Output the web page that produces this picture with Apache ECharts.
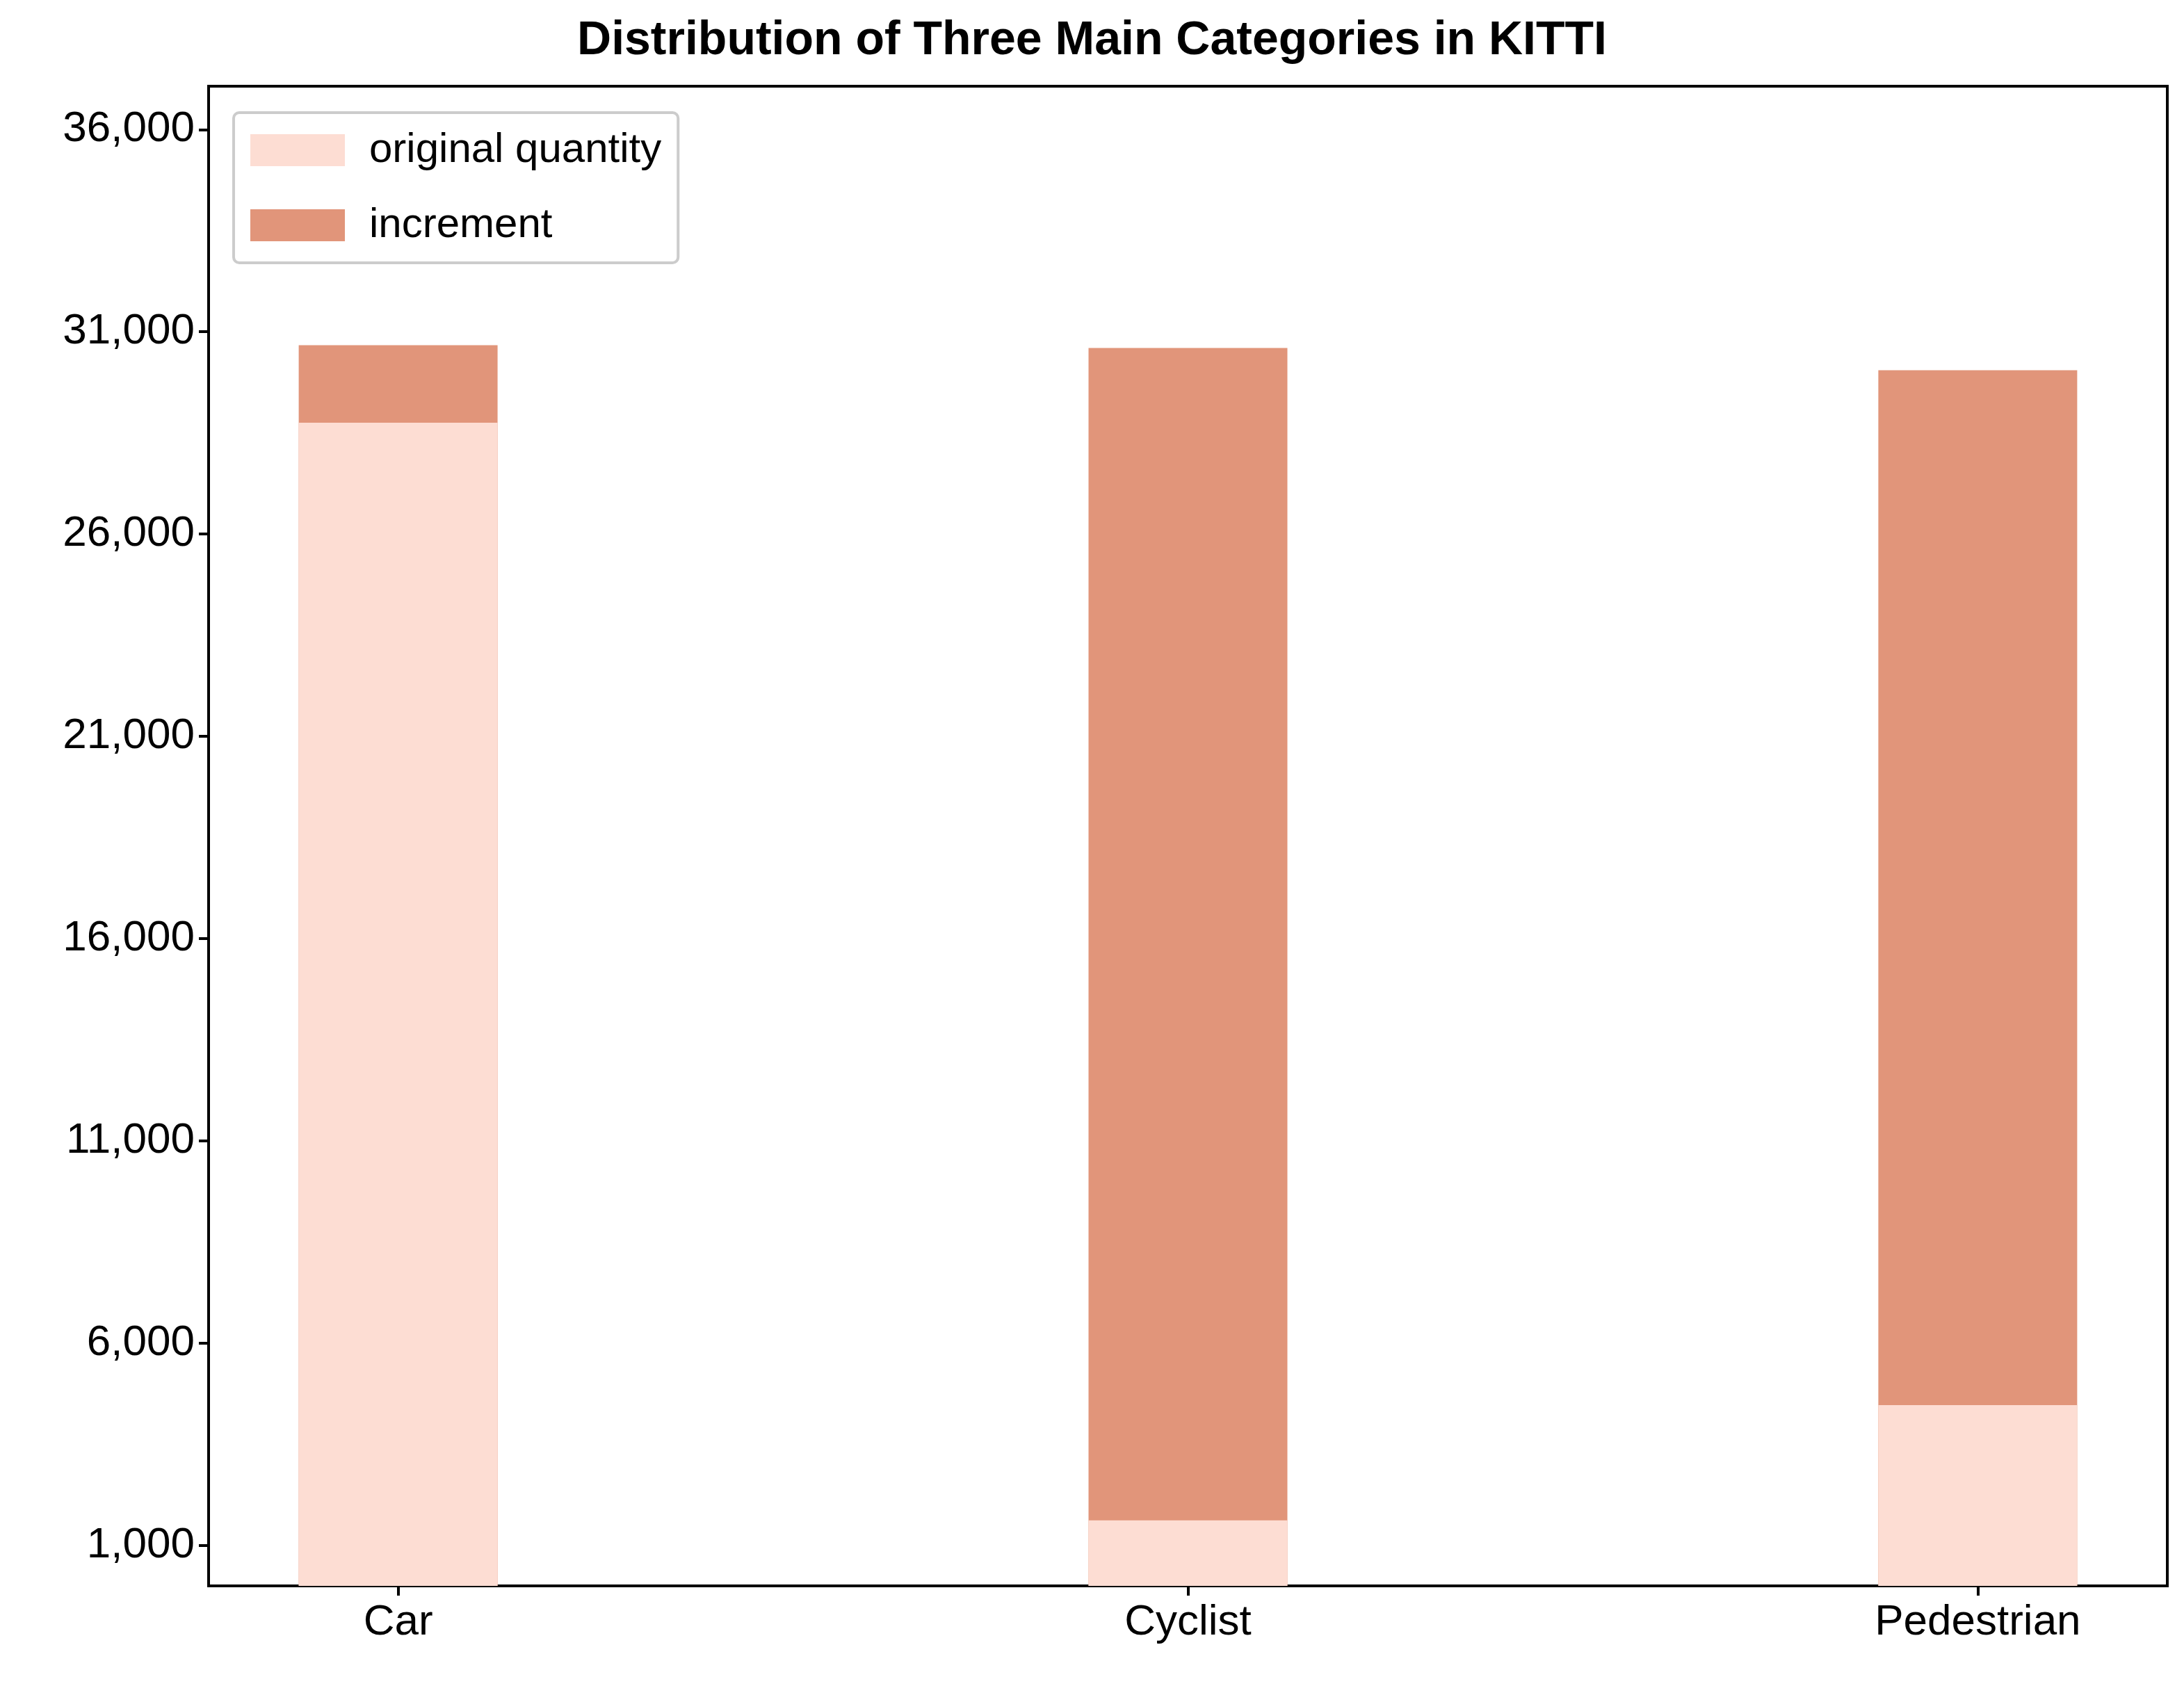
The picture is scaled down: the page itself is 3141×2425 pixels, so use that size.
<!DOCTYPE html>
<html>
<head>
<meta charset="utf-8">
<script src="https://cdn.jsdelivr.net/npm/echarts@6/dist/echarts.min.js"></script>
<style>html,body{margin:0;padding:0;background:#fff}#chart{width:3141px;height:2425px}</style>
</head>
<body>
<div id="chart"></div>
<script>
const categories = ['Car', 'Cyclist', 'Pedestrian']
const originalQuantity = [28750, 1620, 4470]
const increment = [1920, 28980, 25580]
const yTicks = [1000, 6000, 11000, 16000, 21000, 26000, 31000, 36000]

const font = 'Liberation Sans, Arial, sans-serif'
const chart = echarts.init(document.getElementById('chart'))

// numeric x axis keeps the original spacing; stacking is done by drawing the
// total bar first and the original quantity on top of it
const totals = originalQuantity.map((v, i) => v + increment[i])
const toPairs = (arr) => arr.map((v, i) => [i, v])

const option = {
    animation: false,
    backgroundColor: '#fff',
    title: {
        text: 'Distribution of Three Main Categories in KITTI',
        left: 'center',
        top: 20,
        textStyle: { fontFamily: font, fontWeight: 'bold', fontSize: 68, color: '#000' }
    },
    legend: {
        left: 336,
        top: 162,
        orient: 'vertical',
        icon: 'rect',
        itemWidth: 136,
        itemHeight: 46,
        itemGap: 48,
        padding: [24, 24, 24, 24],
        borderColor: '#ccc',
        borderWidth: 4,
        borderRadius: 8,
        textStyle: { fontFamily: font, fontSize: 60, color: '#000', padding: [0, 0, 0, 30] },
        data: ['original quantity', 'increment']
    },
    grid: {
        left: 300, right: 24, top: 124, bottom: 144,
        show: true, borderColor: '#000', borderWidth: 4
    },
    xAxis: {
        type: 'value',
        min: -0.24,
        max: 2.24,
        splitLine: { show: false },
        axisLine: { show: false, onZero: false },
        axisTick: { show: true, length: 14, lineStyle: { width: 4, color: '#000' }, customValues: [0, 1, 2] },
        axisLabel: {
            customValues: [0, 1, 2],
            formatter: (v) => categories[Math.round(v)],
            fontFamily: font, fontSize: 62, color: '#000', margin: 22
        }
    },
    yAxis: {
        type: 'value',
        min: 0,
        max: 37070,
        splitLine: { show: false },
        axisLine: { show: false, onZero: false },
        axisTick: { show: true, length: 14, lineStyle: { width: 4, color: '#000' }, customValues: yTicks },
        axisLabel: {
            customValues: yTicks,
            formatter: (v) => v.toLocaleString('en-US'),
            fontFamily: font, fontSize: 62, color: '#000', margin: 20
        }
    },
    series: [
        {
            name: 'increment',
            type: 'bar',
            barWidth: 286,
            barGap: '-100%',
            itemStyle: { color: '#E1957A' },
            data: toPairs(totals)
        },
        {
            name: 'original quantity',
            type: 'bar',
            barWidth: 286,
            barGap: '-100%',
            itemStyle: { color: '#FDDDD3' },
            data: toPairs(originalQuantity)
        }
    ]
}
chart.setOption(option)
</script>
</body>
</html>
